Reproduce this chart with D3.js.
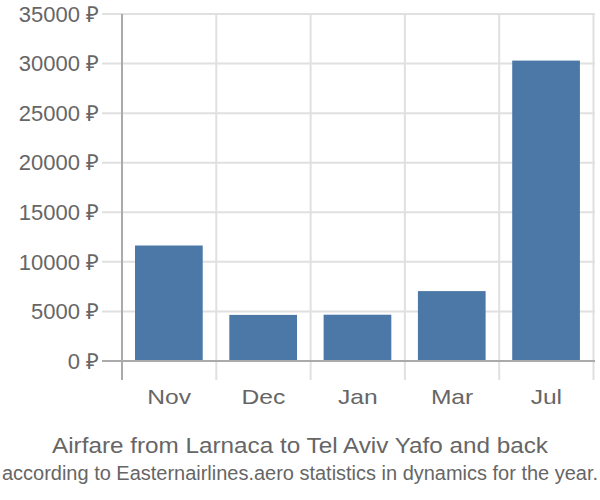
<!DOCTYPE html>
<html><head><meta charset="utf-8">
<script src="https://cdn.jsdelivr.net/npm/d3@7"></script>
<style>body{margin:0;background:#fff}svg text{font-family:"Liberation Sans",Arial,sans-serif;fill:#666}</style>
</head><body><svg id="c" width="600" height="500"></svg>
<script>
const categories = ["Nov","Dec","Jan","Mar","Jul"];
const values = [11650, 4650, 4670, 7050, 30300];
const yTicks = [0,5000,10000,15000,20000,25000,30000,35000];
const title = "Airfare from Larnaca to Tel Aviv Yafo and back";
const subtitle = "according to Easternairlines.aero statistics in dynamics for the year.";

const svg = d3.select("#c");
const x = d3.scaleBand().domain(categories).range([122, 593.5]).padding(0);
const y = d3.scaleLinear().domain([0,35000]).range([361,14]);

// horizontal grid
svg.append("g").selectAll("line").data(yTicks).join("line")
  .attr("x1",102).attr("x2",595).attr("y1",d=>y(d)).attr("y2",d=>y(d))
  .attr("stroke",d=>d===0?"#aaa":"#e0e0e0").attr("stroke-width",2);
// vertical grid
const vx = categories.map(c=>x(c)).concat([x(categories[categories.length-1])+x.bandwidth()]);
svg.append("g").selectAll("line").data(vx.slice(1)).join("line")
  .attr("x1",d=>d).attr("x2",d=>d).attr("y1",14).attr("y2",380)
  .attr("stroke","#e0e0e0").attr("stroke-width",2);
// bars
svg.append("g").selectAll("rect").data(values).join("rect")
  .attr("x",(d,i)=>x(categories[i])+x.bandwidth()*0.138)
  .attr("width",x.bandwidth()*0.718)
  .attr("y",d=>y(d)).attr("height",d=>y(0)-y(d))
  .attr("fill","#4c78a8");
// baseline over bars
svg.append("line").attr("x1",102).attr("x2",595).attr("y1",y(0)).attr("y2",y(0)).attr("stroke","#aaa").attr("stroke-width",2);
// y axis line
svg.append("line").attr("x1",122).attr("x2",122).attr("y1",14).attr("y2",380).attr("stroke","#aaa").attr("stroke-width",2);
// y labels
svg.append("g").selectAll("text").data(yTicks).join("text")
  .attr("x",99).attr("y",d=>y(d)).attr("dy","0.35em").attr("text-anchor","end")
  .style("font-size","22px").text(d=>d+" ₽");
// x labels
svg.append("g").selectAll("text").data(categories).join("text")
  .attr("transform",d=>`translate(${x(d)+x.bandwidth()/2},404) scale(1.2,1)`)
  .attr("text-anchor","middle")
  .style("font-size","20.5px").text(d=>d);
svg.append("text").attr("x",300).attr("y",453).attr("text-anchor","middle").style("font-size","22px")
  .attr("textLength",496).attr("lengthAdjust","spacingAndGlyphs").text(title);
svg.append("text").attr("x",300).attr("y",480).attr("text-anchor","middle").style("font-size","19.5px")
  .attr("textLength",596).attr("lengthAdjust","spacingAndGlyphs").text(subtitle);
</script></body></html>
